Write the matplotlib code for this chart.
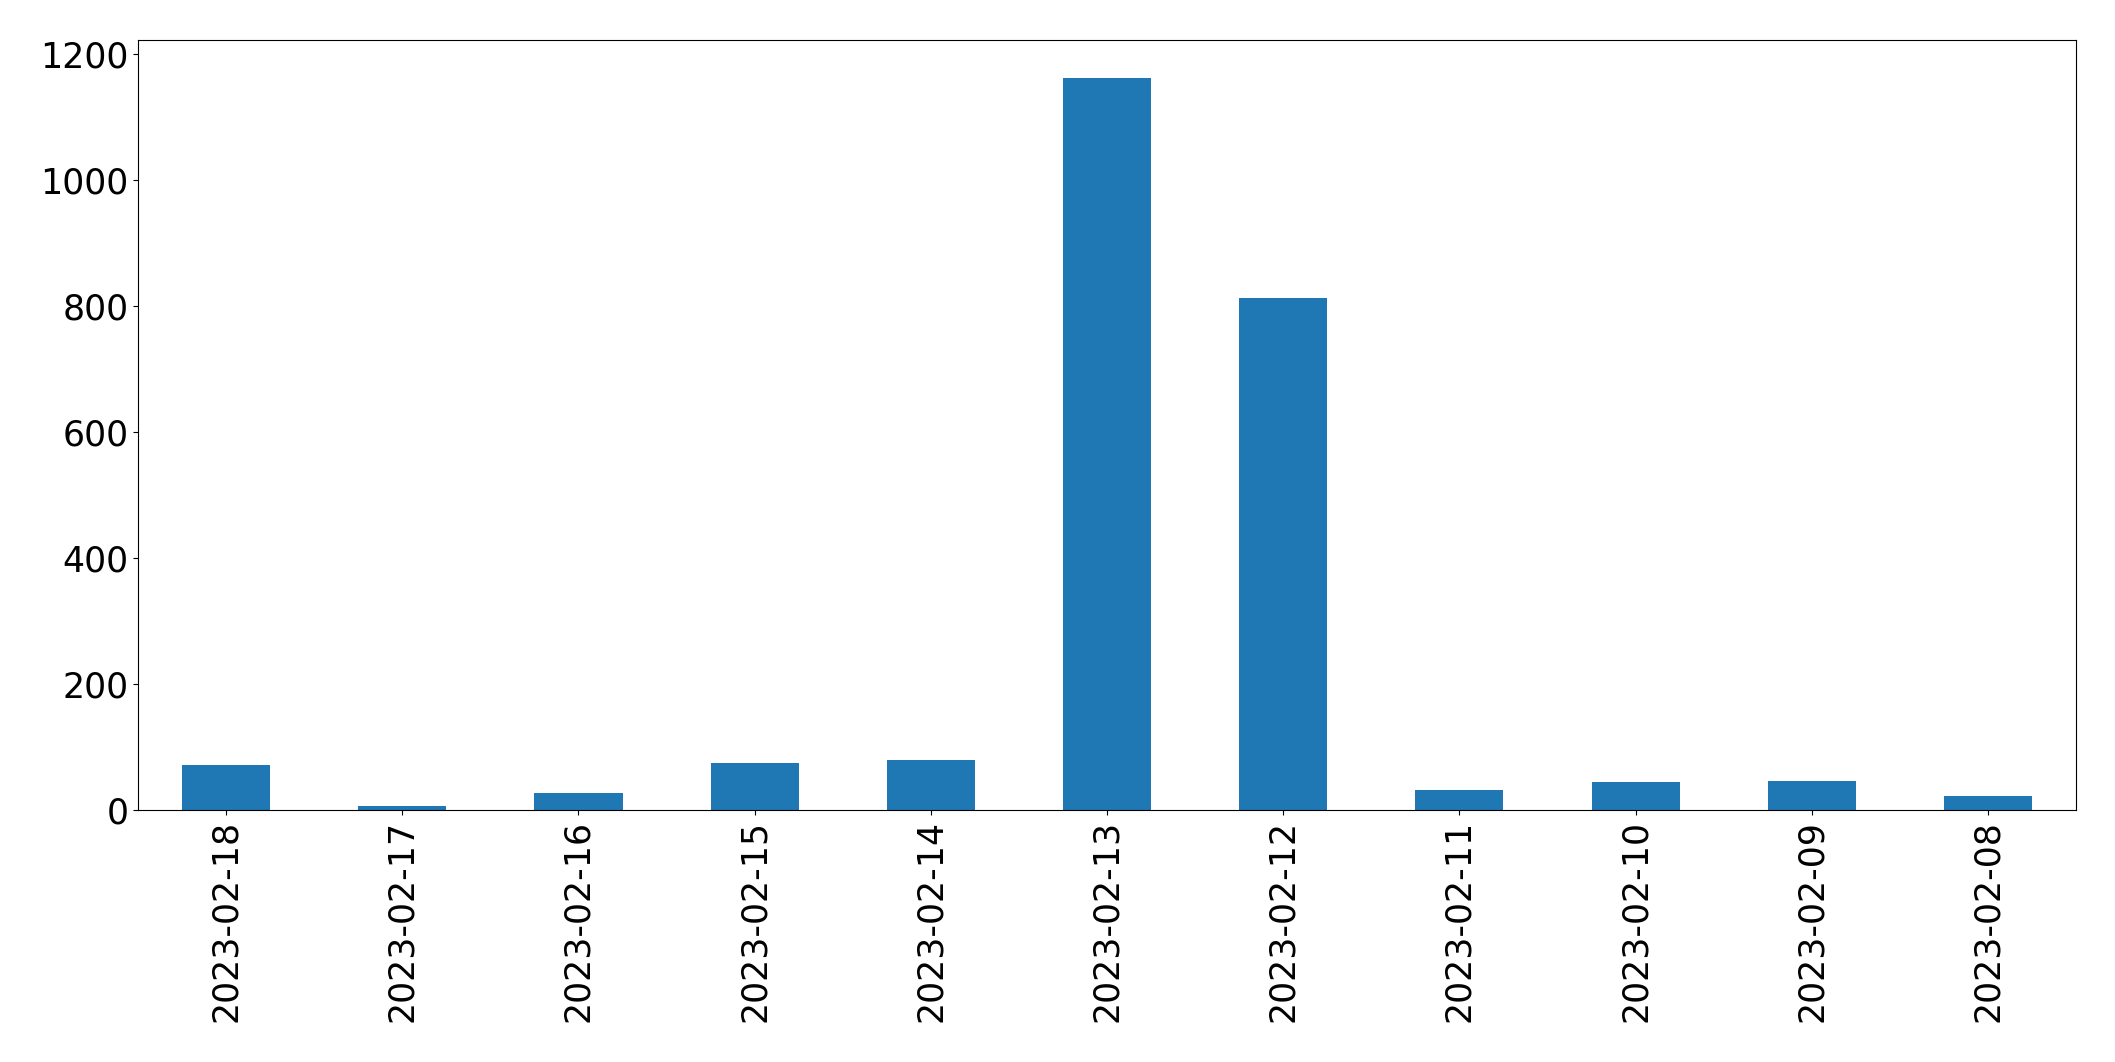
import matplotlib
matplotlib.use("Agg")
import matplotlib.pyplot as plt
import pandas as pd

dates = ["2023-02-18", "2023-02-17", "2023-02-16", "2023-02-15", "2023-02-14",
         "2023-02-13", "2023-02-12", "2023-02-11", "2023-02-10", "2023-02-09",
         "2023-02-08"]
counts = [72, 7, 27, 75, 80, 1162, 813, 32, 45, 46, 23]

s = pd.Series(counts, index=dates)

fig = plt.figure(figsize=(21.15, 10.62), dpi=100)
ax = fig.add_axes([138 / 2115, 1 - 810 / 1062, (2076 - 138) / 2115, (810 - 40) / 1062])
s.plot(kind="bar", ax=ax, color="#1f77b4")
ax.set_ylim(0, 1222)
ax.tick_params(axis="both", labelsize=25)

fig.savefig("out.png", dpi=100)
